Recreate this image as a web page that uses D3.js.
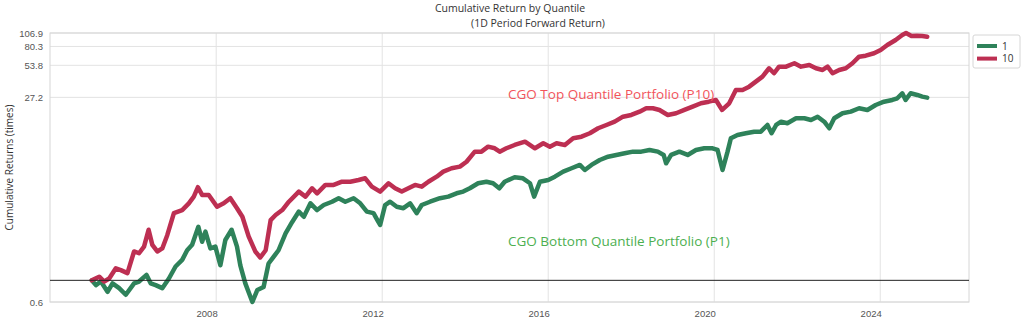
<!DOCTYPE html>
<html>
<head>
<meta charset="utf-8">
<script src="https://cdn.jsdelivr.net/npm/d3@7"></script>
<style>
  html, body { margin: 0; padding: 0; background: #fff; }
  svg { display: block; font-family: "Open Sans", "Noto Sans", sans-serif; }
</style>
</head>
<body>
<svg id="chart" width="1024" height="325"></svg>
<script>
// ---------------- data ----------------
const seriesNames = ["1", "10"];
const seriesColors = ["#2e825a", "#bd2f52"];

const p1Years = [2005.00,2005.10,2005.22,2005.38,2005.50,2005.66,2005.82,2006.02,2006.14,2006.32,2006.42,2006.54,2006.70,2006.86,
  2007.02,2007.18,2007.30,2007.42,2007.57,2007.66,2007.74,2007.86,2007.98,2008.10,2008.22,2008.37,2008.50,2008.58,2008.70,2008.87,
  2008.99,2009.14,2009.26,2009.38,2009.50,2009.67,2009.83,2009.99,2010.11,2010.27,2010.43,2010.59,2010.79,2010.95,2011.11,2011.31,
  2011.47,2011.63,2011.79,2011.88,2011.95,2012.07,2012.19,2012.35,2012.51,2012.67,2012.83,2012.95,2013.15,2013.39,2013.59,2013.79,
  2013.95,2014.11,2014.31,2014.51,2014.67,2014.82,2014.95,2015.19,2015.39,2015.56,2015.66,2015.80,2016.00,2016.16,2016.36,2016.56,
  2016.76,2016.88,2017.04,2017.24,2017.44,2017.64,2017.84,2018.04,2018.24,2018.44,2018.64,2018.78,2018.84,2018.96,2019.16,2019.36,
  2019.56,2019.76,2019.96,2020.08,2020.20,2020.32,2020.40,2020.56,2020.76,2020.96,2021.12,2021.28,2021.38,2021.49,2021.61,2021.76,
  2021.97,2022.17,2022.33,2022.49,2022.65,2022.77,2022.89,2023.09,2023.29,2023.49,2023.69,2023.89,2024.09,2024.29,2024.41,2024.53,
  2024.61,2024.73,2024.89,2025.01,2025.13];
const p1Values = [1.00,0.92,0.98,0.81,0.95,0.87,0.76,0.95,0.98,1.09,0.95,0.92,0.87,1.03,
  1.23,1.34,1.50,1.59,1.89,1.64,1.81,1.53,1.56,1.25,1.67,1.84,1.56,1.25,0.95,0.64,
  0.84,0.89,1.28,1.39,1.50,1.78,1.97,2.40,2.15,2.86,2.48,2.76,2.96,3.19,2.96,3.19,
  2.86,2.40,2.32,2.01,1.92,2.76,2.96,2.66,2.58,2.86,2.32,2.76,2.96,3.19,3.30,3.54,
  3.67,3.94,4.38,4.53,4.38,3.94,4.53,4.98,4.87,4.38,3.30,4.53,4.70,5.04,5.61,6.03,
  6.47,5.81,6.47,7.19,7.71,8.00,8.29,8.58,8.58,8.89,8.58,8.00,6.70,8.00,8.58,8.00,
  8.89,9.22,9.22,8.89,5.81,8.58,11.41,12.23,12.69,13.12,13.12,15.13,12.69,15.13,16.23,15.69,
  17.45,17.45,16.83,18.05,16.23,14.11,17.45,19.41,20.08,21.58,20.82,23.15,24.83,25.75,26.70,29.69,
  25.75,29.69,28.63,27.62,27.04];

const p10Years = [2005.00,2005.18,2005.30,2005.42,2005.58,2005.70,2005.86,2006.02,2006.14,2006.26,2006.37,2006.46,2006.58,2006.70,
  2006.82,2006.98,2007.18,2007.34,2007.46,2007.56,2007.66,2007.82,2008.02,2008.18,2008.34,2008.50,2008.63,2008.78,2008.94,2009.06,
  2009.19,2009.31,2009.43,2009.59,2009.75,2009.99,2010.15,2010.31,2010.43,2010.63,2010.83,2011.03,2011.23,2011.43,2011.59,2011.75,
  2011.95,2012.15,2012.31,2012.47,2012.63,2012.79,2012.95,2013.11,2013.31,2013.47,2013.67,2013.87,2014.03,2014.23,2014.39,2014.55,
  2014.71,2014.83,2014.99,2015.19,2015.44,2015.68,2015.88,2016.04,2016.20,2016.40,2016.60,2016.80,2017.00,2017.20,2017.40,2017.60,
  2017.80,2018.00,2018.20,2018.36,2018.52,2018.68,2018.88,2019.08,2019.28,2019.48,2019.68,2019.87,2020.04,2020.19,2020.36,2020.52,
  2020.68,2020.84,2021.00,2021.16,2021.32,2021.44,2021.56,2021.73,2021.93,2022.09,2022.29,2022.45,2022.61,2022.73,2022.85,2023.01,
  2023.17,2023.33,2023.49,2023.65,2023.85,2024.01,2024.17,2024.37,2024.53,2024.62,2024.75,2024.88,2025.01,2025.13];
const p10Values = [1.00,1.06,0.98,1.03,1.20,1.17,1.12,1.48,1.45,1.56,1.84,1.59,1.48,1.53,
  1.75,2.32,2.48,2.86,3.30,4.03,3.42,3.42,2.66,2.86,3.19,2.58,2.15,1.73,1.48,1.38,
  1.50,2.00,2.23,2.48,2.96,3.67,3.30,3.94,3.54,4.23,4.23,4.53,4.53,4.70,4.87,4.08,
  3.67,4.38,3.94,3.67,3.94,4.23,4.08,4.53,5.04,5.61,6.03,6.24,6.93,8.58,8.58,9.54,
  9.22,8.58,9.22,9.89,10.61,9.22,10.26,9.54,10.26,9.89,11.41,11.80,12.69,14.11,15.13,16.23,
  18.05,18.72,20.08,21.58,21.58,20.82,18.72,19.41,20.82,22.32,24.00,24.83,25.75,20.82,24.00,31.84,
  31.84,34.16,38.00,42.27,50.51,45.42,52.26,52.26,56.18,52.26,54.18,50.51,48.72,52.26,45.42,48.72,
  50.51,56.18,64.64,66.04,69.48,74.52,82.88,92.18,102.5,106.9,100.3,101.0,100.3,98.9];

const xTickYears = [2008, 2012, 2016, 2020, 2024];
const yTickLabels = ["0.6", "27.2", "53.8", "80.3", "106.9"];

const titleLine1 = "Cumulative Return by Quantile";
const titleLine2 = "(1D Period Forward Return)";
const yAxisLabel = "Cumulative Returns (times)";
const annotTop = "CGO Top Quantile Portfolio (P10)";
const annotBottom = "CGO Bottom Quantile Portfolio (P1)";

// ---------------- helpers ----------------
function yearToDate(y) {
  const yr = Math.floor(y);
  const start = Date.UTC(yr, 0, 1), end = Date.UTC(yr + 1, 0, 1);
  return new Date(start + (y - yr) * (end - start));
}
// matplotlib-style symlog (base 10, linthresh 2, linscale 1)
const LINTHRESH = 2, LINSCALE_ADJ = 1 / (1 - 1 / 10);
function symlog(v) {
  const a = Math.abs(v);
  return Math.sign(v) * (a <= LINTHRESH ? a * LINSCALE_ADJ
    : LINTHRESH * (LINSCALE_ADJ + Math.log10(a / LINTHRESH)));
}

const series = [
  { name: seriesNames[0], color: seriesColors[0],
    pts: p1Years.map((yv, i) => ({ date: yearToDate(yv), value: p1Values[i] })) },
  { name: seriesNames[1], color: seriesColors[1],
    pts: p10Years.map((yv, i) => ({ date: yearToDate(yv), value: p10Values[i] })) }
];

// ---------------- layout ----------------
const plot = { left: 50, right: 969, top: 33, bottom: 302 };
const svg = d3.select("#chart");

const allPts = series.flatMap(s => s.pts);
const [d0, d1] = d3.extent(allPts, d => d.date);
const pad = (d1 - d0) * 0.05;
const x = d3.scaleUtc()
  .domain([new Date(+d0 - pad), new Date(+d1 + pad)])
  .range([plot.left, plot.right]);

const yMin = d3.min(allPts, d => d.value), yMax = d3.max(allPts, d => d.value);
const yLin = d3.scaleLinear().domain([symlog(yMin), symlog(yMax)]).range([plot.bottom, plot.top]);
const y = v => yLin(symlog(v));
const yTickVals = d3.range(5).map(i => yMin + (yMax - yMin) * i / 4);

// grid
const grid = svg.append("g");
grid.selectAll("line.hg").data(yTickVals).join("line")
  .attr("x1", plot.left).attr("x2", plot.right)
  .attr("y1", d => y(d)).attr("y2", d => y(d))
  .attr("stroke", "#e3e3e3").attr("stroke-width", 1);
grid.selectAll("line.vg").data(xTickYears).join("line")
  .attr("x1", d => x(yearToDate(d))).attr("x2", d => x(yearToDate(d)))
  .attr("y1", plot.top).attr("y2", plot.bottom)
  .attr("stroke", "#e3e3e3").attr("stroke-width", 1);

// frame
svg.append("rect")
  .attr("x", plot.left).attr("y", plot.top)
  .attr("width", plot.right - plot.left).attr("height", plot.bottom - plot.top)
  .attr("fill", "none").attr("stroke", "#d6d6d6").attr("stroke-width", 1);

// axes
const yAxis = svg.append("g")
  .attr("transform", `translate(${plot.left},0)`)
  .call(d3.axisLeft(yLin).tickValues(yTickVals.map(symlog))
    .tickFormat((d, i) => yTickLabels[i]).tickSize(0).tickPadding(7));
yAxis.select(".domain").remove();
yAxis.selectAll("text").attr("fill", "#555").attr("font-size", "9.5px");

const xAxis = svg.append("g")
  .attr("transform", `translate(0,${plot.bottom})`)
  .call(d3.axisBottom(x).tickValues(xTickYears.map(yearToDate))
    .tickFormat(d3.utcFormat("%Y")).tickSize(0).tickPadding(8));
xAxis.select(".domain").remove();
xAxis.selectAll("text").attr("fill", "#555").attr("font-size", "9.5px")
  .attr("text-anchor", "end").attr("dx", "1");

// lines
const line = d3.line().x(d => x(d.date)).y(d => y(d.value));
svg.append("g").selectAll("path").data(series).join("path")
  .attr("d", d => line(d.pts))
  .attr("fill", "none")
  .attr("stroke", d => d.color)
  .attr("stroke-width", 4.5)
  .attr("stroke-linejoin", "round")
  .attr("stroke-linecap", "round");

// reference line at 1.0
svg.append("line")
  .attr("x1", plot.left).attr("x2", plot.right)
  .attr("y1", y(1)).attr("y2", y(1))
  .attr("stroke", "#222").attr("stroke-width", 1);

// titles
svg.append("text").attr("x", 510).attr("y", 12).attr("text-anchor", "middle")
  .attr("font-size", "10.5px").attr("fill", "#333").text(titleLine1);
svg.append("text").attr("x", 538).attr("y", 26.5).attr("text-anchor", "middle")
  .attr("font-size", "10.5px").attr("fill", "#333").text(titleLine2);

svg.append("text")
  .attr("transform", `translate(13,${(plot.top + plot.bottom) / 2}) rotate(-90)`)
  .attr("text-anchor", "middle").attr("font-size", "10px").attr("fill", "#333")
  .text(yAxisLabel);

// annotations
svg.append("text").attr("x", 508).attr("y", 99).attr("font-size", "13.5px")
  .attr("fill", "#f2545b").text(annotTop);
svg.append("text").attr("x", 508).attr("y", 246).attr("font-size", "13.5px")
  .attr("fill", "#4caf50").text(annotBottom);

// legend
const lg = svg.append("g").attr("transform", "translate(973,35)");
lg.append("rect").attr("width", 47).attr("height", 33).attr("rx", 2)
  .attr("fill", "#fff").attr("stroke", "#d6d6d6");
series.forEach((s, i) => {
  const yy = 11 + i * 12.6;
  lg.append("line").attr("x1", 4).attr("x2", 24).attr("y1", yy).attr("y2", yy)
    .attr("stroke", s.color).attr("stroke-width", 4);
  lg.append("text").attr("x", 29).attr("y", yy + 3.5).attr("font-size", "10px")
    .attr("fill", "#333").text(s.name);
});
</script>
</body>
</html>
